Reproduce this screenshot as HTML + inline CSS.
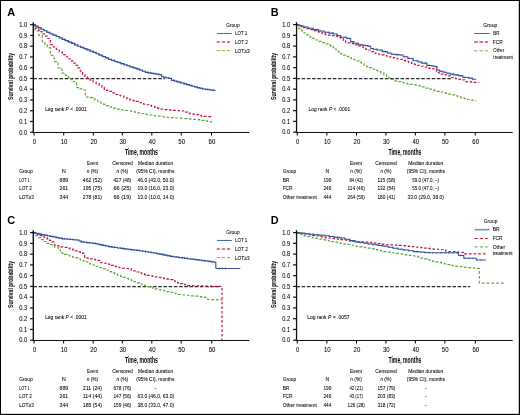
<!DOCTYPE html>
<html><head><meta charset="utf-8"><style>
html,body{margin:0;padding:0;background:#fff;}
body{width:520px;height:415px;overflow:hidden;}
svg{display:block;will-change:transform;}
</style></head><body>
<svg width="520" height="415" viewBox="0 0 520 415" font-family="Liberation Sans, sans-serif">
<rect x="0" y="0" width="520" height="415" fill="#fff"/>

<line x1="33.5" y1="78.62" x2="165" y2="78.62" stroke="#2a2a2a" stroke-width="1.2" stroke-dasharray="3.5 1.7"/>
<path d="M33.5 24.6H35.2 V30.8H36.9H38.8 V35.4H40.7H42.25 V41.6H43.8H44.95 V44.65H47.25 V47.7H48.4H50.35 V55.4H52.3H54.2 V61.6H56.1H58.05 V67.8H60H61.9 V73.2H63.8H65.35 V75.45H68.45 V77.7H70H71.15 V79.65H73.45 V81.6H74.6H76.55 V87.7H78.5H79.83 V88.85H82.47 V90H83.8H85.35 V97H86.9H88.08 V97.35H90.42 V97.7H91.6H92.75 V98.85H95.05 V100H96.2H97.72 V101.55H100.78 V103.1H102.3H103.58 V104.33H106.15 V105.57H108.72 V106.8H110H111.28 V107.57H113.85 V108.33H116.42 V109.1H117.7H119.24 V109.56H122.32 V110.02H125.4 V110.48H128.48 V110.94H131.56 V111.4H133.1H134.64 V112.1H137.71 V112.8H140.79 V113.5H143.86 V114.2H145.4H146.75 V114.6H149.45 V115H152.15 V115.4H154.85 V115.8H156.2H157.74 V116.16H160.82 V116.52H163.9 V116.88H166.98 V117.24H170.06 V117.6H171.6H172.98 V117.8H175.74 V118H178.5 V118.2H181.26 V118.4H184.02 V118.6H185.4H186.94 V118.84H190.02 V119.08H193.1 V119.32H196.18 V119.56H199.26 V119.8H200.8H201.95 V120.35H204.25 V120.9H205.4H207.15 V121.4H210.65 V121.9H212.4" fill="none" stroke="#62a83a" stroke-width="1.2" stroke-dasharray="2.8 2.0"/>
<path d="M33.5 24.6H35.3 V28.1H38.9 V31.6H40.7H41.98 V33.9H44.55 V36.2H47.12 V38.5H48.4H50.35 V44.7H52.3H53.65 V47H56.35 V49.3H57.7H59.23 V52H62.27 V54.7H63.8H65.08 V56.73H67.65 V58.77H70.22 V60.8H71.5H72.78 V63.13H75.35 V65.47H77.92 V67.8H79.2H80.35 V71.15H82.65 V74.5H83.8H84.97 V76.35H87.33 V78.2H88.5H90.03 V80.1H93.07 V82H94.6H96.15 V83.7H99.25 V85.4H100.8H101.95 V87.35H104.25 V89.3H105.4H106.55 V90.35H108.85 V91.4H110H111.55 V92.95H114.65 V94.5H116.2H117.72 V95.25H120.78 V96H122.3H123.85 V97.55H126.95 V99.1H128.5H130.03 V99.87H133.1 V100.63H136.17 V101.4H137.7H138.88 V102.55H141.22 V103.7H142.4H143.67 V104.23H146.2 V104.77H148.73 V105.3H150H151.55 V106.33H154.65 V107.37H157.75 V108.4H159.3H160.85 V109H163.95 V109.6H165.5H167.04 V109.83H170.12 V110.07H173.21 V110.3H176.29 V110.53H179.38 V110.77H182.46 V111H184H185.12 V112.1H187.38 V113.2H188.5H190.03 V113.7H193.1 V114.2H196.17 V114.7H197.7H198.88 V115.45H201.22 V116.2H202.4H204.07 V116.37H207.4 V116.53H210.73 V116.7H212.4" fill="none" stroke="#c2173d" stroke-width="1.2" stroke-dasharray="2.6 2.0"/>
<path d="M33.5 24.6H34.99 V26.14H37.97 V27.68H40.95 V29.22H43.93 V30.76H46.91 V32.3H48.4H49.94 V33.7H53.02 V35.1H56.1 V36.5H59.18 V37.9H62.26 V39.3H63.8H65.34 V40.68H68.42 V42.06H71.5 V43.44H74.58 V44.82H77.66 V46.2H79.2H80.74 V47.44H83.82 V48.68H86.9 V49.92H89.98 V51.16H93.06 V52.4H94.6H96.14 V53.78H99.22 V55.16H102.3 V56.54H105.38 V57.92H108.46 V59.3H110H111.54 V60.38H114.62 V61.46H117.7 V62.54H120.78 V63.62H123.86 V64.7H125.4H126.94 V65.76H130.02 V66.82H133.1 V67.88H136.18 V68.94H139.26 V70H140.8H142.35 V71.2H145.45 V72.4H147H148.38 V72.86H151.14 V73.32H153.9 V73.78H156.66 V74.24H159.42 V74.7H160.8H161.6 V76.7H162.4H163.67 V77.23H166.2 V77.77H168.73 V78.3H170H171.6 V80.3H173.2H174.72 V81.2H177.78 V82.1H180.82 V83H183.88 V83.9H185.4H186.68 V84.67H189.25 V85.43H191.82 V86.2H193.1H194.45 V86.9H197.15 V87.6H199.85 V88.3H202.55 V89H203.9H205.35 V89.38H208.25 V89.75H211.15 V90.12H214.05 V90.5H215.5" fill="none" stroke="#34549a" stroke-width="1.15"/>
<path d="M36.1 24.94V26.94M38.7 26.29V28.29M41.3 27.63V29.63M43.9 28.97V30.97M46.5 30.32V32.32M49.1 31.62V33.62M51.7 32.8V34.8M54.3 33.98V35.98M56.9 35.16V37.16M59.5 36.35V38.35M62.1 37.53V39.53M64.7 38.7V40.7M67.3 39.87V41.87M69.9 41.03V43.03M72.5 42.2V44.2M75.1 43.36V45.36M77.7 44.53V46.53M80.3 45.64V47.64M82.9 46.69V48.69M85.5 47.74V49.74M88.1 48.78V50.78M90.7 49.83V51.83M93.3 50.88V52.88M95.9 51.98V53.98M98.5 53.15V55.15M101.1 54.31V56.31M103.7 55.48V57.48M106.3 56.64V58.64M108.9 57.81V59.81M111.5 58.83V60.83M114.1 59.74V61.74M116.7 60.65V62.65M119.3 61.56V63.56M121.9 62.47V64.47M124.5 63.38V65.38M127.1 64.29V66.29M129.7 65.18V67.18M132.3 66.07V68.07M134.9 66.97V68.97M137.5 67.86V69.86M140.1 68.76V70.76M142.7 69.74V71.74M145.3 70.74V72.74M147.9 71.55V73.55M150.5 71.98V73.98M153.1 72.42V74.42M155.7 72.85V74.85M158.3 73.28V75.28M160.9 73.82V75.82M163.5 75.93V77.93M166.1 76.48V78.48M168.7 77.03V79.03M171.3 78.11V80.11M173.9 79.51V81.51M176.5 80.27V82.27M179.1 81.04V83.04M181.7 81.81V83.81M184.3 82.58V84.58M186.9 83.35V85.35M189.5 84.12V86.12M192.1 84.9V86.9M194.7 85.61V87.61M197.3 86.29V88.29M199.9 86.96V88.96M202.5 87.64V89.64M205.1 88.16V90.16M207.7 88.49V90.49M210.3 88.83V90.83M212.9 89.16V91.16" fill="none" stroke="#34549a" stroke-width="0.8"/>
<line x1="33.3" y1="22.2" x2="33.3" y2="133.1" stroke="#111" stroke-width="1.4"/>
<line x1="32.7" y1="132.5" x2="249.4" y2="132.5" stroke="#111" stroke-width="1.2"/>
<line x1="30.1" y1="132.25" x2="33.5" y2="132.25" stroke="#111" stroke-width="1.25"/>
<line x1="30.1" y1="121.5" x2="33.5" y2="121.5" stroke="#111" stroke-width="1.25"/>
<line x1="30.1" y1="110.74" x2="33.5" y2="110.74" stroke="#111" stroke-width="1.25"/>
<line x1="30.1" y1="99.98" x2="33.5" y2="99.98" stroke="#111" stroke-width="1.25"/>
<line x1="30.1" y1="89.23" x2="33.5" y2="89.23" stroke="#111" stroke-width="1.25"/>
<line x1="30.1" y1="78.47" x2="33.5" y2="78.47" stroke="#111" stroke-width="1.25"/>
<line x1="30.1" y1="67.72" x2="33.5" y2="67.72" stroke="#111" stroke-width="1.25"/>
<line x1="30.1" y1="56.97" x2="33.5" y2="56.97" stroke="#111" stroke-width="1.25"/>
<line x1="30.1" y1="46.21" x2="33.5" y2="46.21" stroke="#111" stroke-width="1.25"/>
<line x1="30.1" y1="35.45" x2="33.5" y2="35.45" stroke="#111" stroke-width="1.25"/>
<line x1="30.1" y1="24.7" x2="33.5" y2="24.7" stroke="#111" stroke-width="1.25"/>
<line x1="34" y1="132.5" x2="34" y2="135.6" stroke="#111" stroke-width="1.1"/>
<line x1="63.7" y1="132.5" x2="63.7" y2="135.6" stroke="#111" stroke-width="1.1"/>
<line x1="93.4" y1="132.5" x2="93.4" y2="135.6" stroke="#111" stroke-width="1.1"/>
<line x1="122.4" y1="132.5" x2="122.4" y2="135.6" stroke="#111" stroke-width="1.1"/>
<line x1="151.8" y1="132.5" x2="151.8" y2="135.6" stroke="#111" stroke-width="1.1"/>
<line x1="181.3" y1="132.5" x2="181.3" y2="135.6" stroke="#111" stroke-width="1.1"/>
<line x1="211.5" y1="132.5" x2="211.5" y2="135.6" stroke="#111" stroke-width="1.1"/>
<line x1="216.9" y1="33.45" x2="231.8" y2="33.45" stroke="#4862a3" stroke-width="1"/>
<line x1="216.7" y1="42" x2="230.8" y2="42" stroke="#cc4a70" stroke-width="1.5" stroke-dasharray="3.2 1.9"/>
<line x1="216.7" y1="50.6" x2="230.8" y2="50.6" stroke="#73b452" stroke-width="1" stroke-dasharray="3.2 1.9"/>
<line x1="296.5" y1="78.53" x2="452.5" y2="78.53" stroke="#2a2a2a" stroke-width="1.2" stroke-dasharray="3.5 1.7"/>
<path d="M297 24.6H298.8 V28.6H300.6H301.75 V30.8H304.05 V33H305.2H306.75 V34.95H309.85 V36.9H311.4H312.95 V38.45H316.05 V40H317.6H319.13 V41.3H322.2 V42.6H325.27 V43.9H326.8H328.08 V45.17H330.65 V46.43H333.22 V47.7H334.5H335.78 V49.77H338.35 V51.83H340.92 V53.9H342.2H343.48 V55.17H346.05 V56.43H348.62 V57.7H349.9H351.18 V58.73H353.75 V59.77H356.32 V60.8H357.6H358.88 V62.37H361.45 V63.93H364.02 V65.5H365.3H366.48 V66.6H368.82 V67.7H370H371.53 V69H374.6 V70.3H377.67 V71.6H379.2H380.75 V73.15H383.85 V74.7H385.4H386.55 V76.25H388.85 V77.8H390H391.55 V79.3H394.65 V80.8H396.2H397.74 V81.58H400.81 V82.35H403.89 V83.12H406.96 V83.9H408.5H410.04 V84.4H413.11 V84.9H416.19 V85.4H419.26 V85.9H420.8H422.33 V86.97H425.4 V88.03H428.47 V89.1H430H431.45 V89.82H434.35 V90.55H437.25 V91.28H440.15 V92H441.6H443.04 V92.72H445.91 V93.45H448.79 V94.18H451.66 V94.9H453.1H454.65 V95.87H457.75 V96.83H460.85 V97.8H462.4H464.12 V98.65H467.57 V99.5H469.3H471.02 V100.1H474.48 V100.7H476.2" fill="none" stroke="#62a83a" stroke-width="1.2" stroke-dasharray="2.8 2.0"/>
<path d="M297 24.6H298.37 V25.63H301.1 V26.67H303.83 V27.7H305.2H306.75 V28.68H309.85 V29.65H312.95 V30.62H316.05 V31.6H317.6H319.13 V32.6H322.2 V33.6H325.27 V34.6H326.8H328.35 V35.13H331.45 V35.67H334.55 V36.2H336.1H337.62 V37.35H340.68 V38.5H342.2H343.35 V40.4H345.65 V42.3H346.8H348.1 V42.83H350.7 V43.37H353.3 V43.9H354.6H355.88 V44.93H358.45 V45.97H361.02 V47H362.3H363.45 V48.15H365.75 V49.3H366.9H368.45 V50H370H371.15 V51.55H373.45 V53.1H374.6H375.95 V53.67H378.65 V54.25H381.35 V54.83H384.05 V55.4H385.4H386.68 V56.17H389.25 V56.93H391.82 V57.7H393.1H394.38 V58.23H396.95 V58.77H399.52 V59.3H400.8H402.35 V60.3H405.45 V61.3H408.55 V62.3H410.1H411.62 V63.5H414.68 V64.7H416.2H417.75 V65.47H420.85 V66.23H423.95 V67H425.5H426.62 V67.65H428.88 V68.3H430H431.6 V68.9H434.8 V69.5H436.4V71.8H438.35 V72.95H441.25 V74.1H442.7H444.15 V74.95H447.05 V75.8H448.5H450.25 V77.5H452H453.15 V78.1H455.45 V78.7H456.6H458.33 V79.3H461.77 V79.9H463.5H464.65 V81.6H465.8H467.46 V81.82H470.79 V82.05H474.11 V82.28H477.44 V82.5H479.1" fill="none" stroke="#c2173d" stroke-width="1.2" stroke-dasharray="2.6 2.0"/>
<path d="M297 24.6H299.05 V25.75H303.15 V26.9H305.2H307.9 V28.25H313.3 V29.6H316H318.7 V30.95H324.1 V32.3H326.8H329.12 V33.1H333.78 V33.9H336.1H336.85 V35.4H337.6H340.7 V37.3H343.8H346.85 V38.5H349.9H350.7 V41.6H351.5H353.8 V43.15H358.4 V44.7H360.7H363.02 V45.45H367.68 V46.2H370H370.75 V48.5H371.5H373.43 V49.25H377.27 V50H379.2H382.3 V51.6H385.4H387.32 V52.9H391.18 V54.2H393.1H395.03 V54.6H398.88 V55H400.8H403.12 V56.75H407.78 V58.5H410.1H413.15 V60.8H416.2H418.12 V61.95H421.97 V63.1H423.9H426.95 V65.4H430H431.73 V66H435.17 V66.6H436.9V70H439.38 V71.15H443.12 V72.3H445H446.75 V73.2H450.25 V74.1H452H454.02 V74.85H458.08 V75.6H460.1H462.95 V77.5H465.8H468.7 V78.1H471.6H472.2 V79.3H472.8H476.2" fill="none" stroke="#34549a" stroke-width="1.05"/>
<path d="M301 24.72V26.72M305 25.84V27.84M309 26.85V28.85M313 27.85V29.85M317 28.85V30.85M321 29.85V31.85M325 30.85V32.85M329 31.68V33.68M333 32.37V34.37M337 33.8V35.8M341 35.44V37.44M345 36.54V38.54M349 37.32V39.32M353 41.11V43.11M357 42.45V44.45M361 43.75V45.75M365 44.39V46.39M369 45.04V47.04M373 47.79V49.79M377 48.57V50.57M381 49.46V51.46M385 50.5V52.5M389 51.82V53.82M393 53.17V55.17M397 53.61V55.61M401 54.08V56.08M405 55.58V57.58M409 57.09V59.09M413 58.59V60.59M417 60.04V62.04M421 61.23V63.23M425 62.51V64.51M429 64.02V66.02M433 64.92V66.92M437 66.17V68.17M441 70.07V72.07M445 71.3V73.3M449 72.33V74.33M453 73.29V75.29M457 74.03V76.03M461 74.9V76.9M465 76.23V78.23M469 76.83V78.83M473 78.3V80.3" fill="none" stroke="#34549a" stroke-width="0.7"/>
<line x1="296.55" y1="22.2" x2="296.55" y2="133.1" stroke="#111" stroke-width="1.3"/>
<line x1="295.95" y1="132.5" x2="512.8" y2="132.5" stroke="#111" stroke-width="1.2"/>
<line x1="293.1" y1="132.15" x2="296.5" y2="132.15" stroke="#111" stroke-width="1.25"/>
<line x1="293.1" y1="121.4" x2="296.5" y2="121.4" stroke="#111" stroke-width="1.25"/>
<line x1="293.1" y1="110.64" x2="296.5" y2="110.64" stroke="#111" stroke-width="1.25"/>
<line x1="293.1" y1="99.89" x2="296.5" y2="99.89" stroke="#111" stroke-width="1.25"/>
<line x1="293.1" y1="89.13" x2="296.5" y2="89.13" stroke="#111" stroke-width="1.25"/>
<line x1="293.1" y1="78.38" x2="296.5" y2="78.38" stroke="#111" stroke-width="1.25"/>
<line x1="293.1" y1="67.62" x2="296.5" y2="67.62" stroke="#111" stroke-width="1.25"/>
<line x1="293.1" y1="56.87" x2="296.5" y2="56.87" stroke="#111" stroke-width="1.25"/>
<line x1="293.1" y1="46.11" x2="296.5" y2="46.11" stroke="#111" stroke-width="1.25"/>
<line x1="293.1" y1="35.35" x2="296.5" y2="35.35" stroke="#111" stroke-width="1.25"/>
<line x1="293.1" y1="24.6" x2="296.5" y2="24.6" stroke="#111" stroke-width="1.25"/>
<line x1="297.3" y1="132.5" x2="297.3" y2="135.6" stroke="#111" stroke-width="1.1"/>
<line x1="326.9" y1="132.5" x2="326.9" y2="135.6" stroke="#111" stroke-width="1.1"/>
<line x1="356.5" y1="132.5" x2="356.5" y2="135.6" stroke="#111" stroke-width="1.1"/>
<line x1="385.9" y1="132.5" x2="385.9" y2="135.6" stroke="#111" stroke-width="1.1"/>
<line x1="415.4" y1="132.5" x2="415.4" y2="135.6" stroke="#111" stroke-width="1.1"/>
<line x1="444.9" y1="132.5" x2="444.9" y2="135.6" stroke="#111" stroke-width="1.1"/>
<line x1="475.3" y1="132.5" x2="475.3" y2="135.6" stroke="#111" stroke-width="1.1"/>
<line x1="474.2" y1="33.5" x2="489.6" y2="33.5" stroke="#4862a3" stroke-width="1"/>
<line x1="474.2" y1="42" x2="488.1" y2="42" stroke="#cc4a70" stroke-width="1.5" stroke-dasharray="3.6 1.6"/>
<line x1="474.2" y1="50.8" x2="488.1" y2="50.8" stroke="#73b452" stroke-width="1" stroke-dasharray="3.2 2.1"/>
<line x1="33.5" y1="286.57" x2="221" y2="286.57" stroke="#2a2a2a" stroke-width="1.2" stroke-dasharray="3.5 1.7"/>
<path d="M33.5 232.6H34.8 V235.7H36.1H37.62 V237.65H40.68 V239.6H42.2H43.75 V241.5H46.85 V243.4H48.4H49.68 V244.7H52.25 V246H54.82 V247.3H56.1H58.2 V248.2H60.3V252.3H61.98 V253.33H64.55 V254.37H67.12 V255.4H68.4H69.75 V256.25H72.45 V257.1H75.15 V257.95H77.85 V258.8H79.2H80.48 V259.83H83.05 V260.87H85.62 V261.9H86.9H87.7 V263.4H88.5H90.03 V264.2H93.07 V265H94.6H96.15 V266.27H99.25 V267.53H102.35 V268.8H103.9H105.43 V270.25H108.47 V271.7H110H111.53 V272.93H114.6 V274.17H117.67 V275.4H119.2H120.55 V276.4H123.25 V277.4H125.95 V278.4H128.65 V279.4H130H131.35 V280.55H134.05 V281.7H136.75 V282.85H139.45 V284H140.8H142.08 V284.87H144.65 V285.73H147.22 V286.6H148.5H149.78 V287.37H152.35 V288.13H154.92 V288.9H156.2H157.74 V289.58H160.82 V290.26H163.9 V290.94H166.98 V291.62H170.06 V292.3H171.6H172.88 V293.03H175.45 V293.77H178.02 V294.5H179.3H180.64 V294.75H183.31 V295H185.99 V295.25H188.66 V295.5H190H191.6 V295.86H194.8 V296.22H198 V296.58H201.2 V296.94H204.4 V297.3H206H207.65 V299.5H209.3H210.93 V299.6H214.18 V299.7H217.43 V299.8H220.68 V299.9H222.3" fill="none" stroke="#62a83a" stroke-width="1.2" stroke-dasharray="2.8 2.0"/>
<path d="M33.5 232.6H35.3 V234.15H38.9 V235.7H40.7H41.98 V236.73H44.55 V237.77H47.12 V238.8H48.4H49.55 V240.35H51.85 V241.9H53H54.55 V245H56.1H57.65 V245.9H60.75 V246.8H62.3H63.83 V247.47H66.9 V248.13H69.97 V248.8H71.5H72.78 V249.83H75.35 V250.87H77.92 V251.9H79.2H80.35 V252.65H82.65 V253.4H83.8H84.6 V257.3H85.4H86.95 V258.05H90.05 V258.8H91.6H92.88 V259.33H95.45 V259.87H98.02 V260.4H99.3H100.8 V262.7H102.3H103.58 V263.23H106.15 V263.77H108.72 V264.3H110H111.28 V265.33H113.85 V266.37H116.42 V267.4H117.7H119.24 V267.77H122.31 V268.15H125.39 V268.52H128.46 V268.9H130H131.28 V269.93H133.85 V270.97H136.42 V272H137.7H139.05 V272.85H141.75 V273.7H144.45 V274.55H147.15 V275.4H148.5H149.85 V275.9H152.55 V276.4H155.25 V276.9H157.95 V277.4H159.3H160.84 V277.97H163.91 V278.55H166.99 V279.12H170.06 V279.7H171.6H172.78 V280.85H175.12 V282H176.3H177.58 V282.8H180.15 V283.6H182.72 V284.4H184H185.18 V285H187.52 V285.6H188.7H190.21 V285.68H193.24 V285.76H196.27 V285.85H199.3 V285.93H202.32 V286.01H205.35 V286.09H208.38 V286.17H211.4 V286.25H214.43 V286.34H217.46 V286.42H220.49 V286.5H222V340.2" fill="none" stroke="#c2173d" stroke-width="1.2" stroke-dasharray="2.6 2.0"/>
<path d="M33.5 232.6H34.99 V233.22H37.97 V233.84H40.95 V234.46H43.93 V235.08H46.91 V235.7H48.4H49.94 V236.32H53.02 V236.94H56.1 V237.56H59.18 V238.18H62.26 V238.8H63.8H65.19 V239.04H67.97 V239.28H70.75 V239.52H73.53 V239.76H76.31 V240H77.7H78.85 V240.95H81.15 V241.9H82.3H83.84 V242.28H86.91 V242.65H89.99 V243.03H93.06 V243.4H94.6H96.14 V244.04H99.22 V244.68H102.3 V245.32H105.38 V245.96H108.46 V246.6H110H111.54 V247.06H114.62 V247.52H117.7 V247.98H120.78 V248.44H123.86 V248.9H125.4H126.94 V249.26H130.02 V249.62H133.1 V249.98H136.18 V250.34H139.26 V250.7H140.8H142.34 V251.2H145.42 V251.7H148.5 V252.2H151.58 V252.7H154.66 V253.2H156.2H157.74 V253.82H160.82 V254.44H163.9 V255.06H166.98 V255.68H170.06 V256.3H171.6H173 V256.7H175.8 V257.1H178.6 V257.5H180H181.54 V257.9H184.62 V258.3H187.7 V258.7H190.78 V259.1H193.86 V259.5H195.4H196.86 V259.89H199.77 V260.27H202.69 V260.66H205.6 V261.04H208.51 V261.43H211.43 V261.81H214.34 V262.2H215.8V268.5" fill="none" stroke="#34549a" stroke-width="1.15"/>
<path d="M36.3 232.23V234.13M39.1 232.82V234.72M41.9 233.4V235.3M44.7 233.98V235.88M47.5 234.56V236.46M50.3 235.13V237.03M53.1 235.7V237.6M55.9 236.26V238.16M58.7 236.82V238.72M61.5 237.39V239.29M64.3 237.89V239.79M67.1 238.13V240.03M69.9 238.38V240.28M72.7 238.62V240.52M75.5 238.86V240.76M78.3 239.3V241.2M81.1 240.45V242.35M83.9 241.15V243.05M86.7 241.49V243.39M89.5 241.83V243.73M92.3 242.17V244.07M95.1 242.55V244.45M97.9 243.14V245.04M100.7 243.72V245.62M103.5 244.3V246.2M106.3 244.88V246.78M109.1 245.46V247.36M111.9 245.93V247.83M114.7 246.35V248.25M117.5 246.77V248.67M120.3 247.19V249.09M123.1 247.61V249.51M125.9 248.01V249.91M128.7 248.34V250.24M131.5 248.66V250.56M134.3 248.99V250.89M137.1 249.32V251.22M139.9 249.64V251.54M142.7 250.06V251.96M145.5 250.51V252.41M148.3 250.97V252.87M151.1 251.42V253.32M153.9 251.88V253.78M156.7 252.35V254.25M159.5 252.91V254.81M162.3 253.48V255.38M165.1 254.04V255.94M167.9 254.61V256.51M170.7 255.17V257.07M173.5 255.62V257.52M176.3 256.02V257.92M179.1 256.42V258.32M181.9 256.8V258.7M184.7 257.16V259.06M187.5 257.52V259.42M190.3 257.89V259.79M193.1 258.25V260.15M195.9 258.62V260.52M198.7 258.99V260.89M201.5 259.36V261.26M204.3 259.73V261.63M207.1 260.1V262M209.9 260.47V262.37M212.7 260.84V262.74" fill="none" stroke="#34549a" stroke-width="0.75"/>
<line x1="215.8" y1="268.5" x2="240.3" y2="268.5" stroke="#34549a" stroke-width="1"/>
<line x1="219.5" y1="267.5" x2="219.5" y2="269.5" stroke="#34549a" stroke-width="0.8"/>
<line x1="222.5" y1="267.5" x2="222.5" y2="269.5" stroke="#34549a" stroke-width="0.8"/>
<line x1="225.5" y1="267.5" x2="225.5" y2="269.5" stroke="#34549a" stroke-width="0.8"/>
<line x1="33.3" y1="230.2" x2="33.3" y2="341.1" stroke="#111" stroke-width="1.4"/>
<line x1="32.7" y1="340.5" x2="249.4" y2="340.5" stroke="#111" stroke-width="1.2"/>
<line x1="30.1" y1="340.2" x2="33.5" y2="340.2" stroke="#111" stroke-width="1.25"/>
<line x1="30.1" y1="329.44" x2="33.5" y2="329.44" stroke="#111" stroke-width="1.25"/>
<line x1="30.1" y1="318.69" x2="33.5" y2="318.69" stroke="#111" stroke-width="1.25"/>
<line x1="30.1" y1="307.94" x2="33.5" y2="307.94" stroke="#111" stroke-width="1.25"/>
<line x1="30.1" y1="297.18" x2="33.5" y2="297.18" stroke="#111" stroke-width="1.25"/>
<line x1="30.1" y1="286.43" x2="33.5" y2="286.43" stroke="#111" stroke-width="1.25"/>
<line x1="30.1" y1="275.67" x2="33.5" y2="275.67" stroke="#111" stroke-width="1.25"/>
<line x1="30.1" y1="264.92" x2="33.5" y2="264.92" stroke="#111" stroke-width="1.25"/>
<line x1="30.1" y1="254.16" x2="33.5" y2="254.16" stroke="#111" stroke-width="1.25"/>
<line x1="30.1" y1="243.41" x2="33.5" y2="243.41" stroke="#111" stroke-width="1.25"/>
<line x1="30.1" y1="232.65" x2="33.5" y2="232.65" stroke="#111" stroke-width="1.25"/>
<line x1="34.1" y1="340.5" x2="34.1" y2="343.6" stroke="#111" stroke-width="1.1"/>
<line x1="63.6" y1="340.5" x2="63.6" y2="343.6" stroke="#111" stroke-width="1.1"/>
<line x1="93.2" y1="340.5" x2="93.2" y2="343.6" stroke="#111" stroke-width="1.1"/>
<line x1="122.4" y1="340.5" x2="122.4" y2="343.6" stroke="#111" stroke-width="1.1"/>
<line x1="151.8" y1="340.5" x2="151.8" y2="343.6" stroke="#111" stroke-width="1.1"/>
<line x1="181.2" y1="340.5" x2="181.2" y2="343.6" stroke="#111" stroke-width="1.1"/>
<line x1="211.7" y1="340.5" x2="211.7" y2="343.6" stroke="#111" stroke-width="1.1"/>
<line x1="216.9" y1="240.45" x2="231.8" y2="240.45" stroke="#4862a3" stroke-width="1"/>
<line x1="216.7" y1="249" x2="230.8" y2="249" stroke="#cc4a70" stroke-width="1.5" stroke-dasharray="3.2 1.9"/>
<line x1="216.7" y1="257.6" x2="230.8" y2="257.6" stroke="#73b452" stroke-width="1" stroke-dasharray="3.2 1.9"/>
<line x1="296.5" y1="286.55" x2="470.3" y2="286.55" stroke="#2a2a2a" stroke-width="1.2" stroke-dasharray="3.5 1.7"/>
<path d="M297 232.6H298.68 V234.15H302.02 V235.7H303.7H304.98 V236.2H307.55 V236.7H310.12 V237.2H311.4H312.94 V237.82H316.02 V238.44H319.1 V239.06H322.18 V239.68H325.26 V240.3H326.8H328.34 V240.92H331.42 V241.54H334.5 V242.16H337.58 V242.78H340.66 V243.4H342.2H343.75 V243.93H346.85 V244.47H349.95 V245H351.5H353.02 V245.75H356.08 V246.5H357.6H359.15 V246.93H362.25 V247.35H365.35 V247.77H368.45 V248.2H370H371.54 V248.88H374.62 V249.56H377.7 V250.24H380.78 V250.92H383.86 V251.6H385.4H386.94 V252.06H390.02 V252.52H393.1 V252.98H396.18 V253.44H399.26 V253.9H400.8H402.34 V254.36H405.42 V254.82H408.5 V255.28H411.58 V255.74H414.66 V256.2H416.2H417.74 V257.12H420.82 V258.04H423.9 V258.96H426.98 V259.88H430.06 V260.8H431.6H433 V261.33H435.8 V261.87H438.6 V262.4H440H441.45 V263.12H444.35 V263.84H447.25 V264.56H450.15 V265.28H453.05 V266H454.5H455.94 V266.34H458.82 V266.68H461.7 V267.02H464.58 V267.36H467.46 V267.7H468.9H470.63 V267.97H474.1 V268.23H477.57 V268.5H479.3V283.1H503.7" fill="none" stroke="#62a83a" stroke-width="1.2" stroke-dasharray="2.8 2.0"/>
<path d="M297 232.6H298.44 V233.06H301.32 V233.52H304.2 V233.98H307.08 V234.44H309.96 V234.9H311.4H312.94 V235.44H316.02 V235.98H319.1 V236.52H322.18 V237.06H325.26 V237.6H326.8H328.34 V238H331.42 V238.4H334.5 V238.8H337.58 V239.2H340.66 V239.6H342.2H343.74 V240H346.82 V240.4H349.9 V240.8H352.98 V241.2H356.06 V241.6H357.6H359.15 V241.78H362.25 V241.95H365.35 V242.12H368.45 V242.3H370H371.54 V242.76H374.62 V243.22H377.7 V243.68H380.78 V244.14H383.86 V244.6H385.4H386.94 V244.76H390.02 V244.92H393.1 V245.08H396.18 V245.24H399.26 V245.4H400.8H402.34 V245.72H405.42 V246.04H408.5 V246.36H411.58 V246.68H414.66 V247H416.2H417.74 V247.36H420.82 V247.72H423.9 V248.08H426.98 V248.44H430.06 V248.8H431.6H433 V249.03H435.8 V249.27H438.6 V249.5H440H445.8V251.5H457.7V252.3H464.6V253.8H486.2" fill="none" stroke="#c2173d" stroke-width="1.2" stroke-dasharray="2.6 2.0"/>
<path d="M297 232.6H299.4 V233.13H304.2 V233.67H309 V234.2H311.4H313.97 V234.7H319.1 V235.2H324.23 V235.7H326.8H329.37 V236.47H334.5 V237.23H339.63 V238H342.2H344.77 V239.3H349.9 V240.6H355.03 V241.9H357.6H359.67 V242.57H363.8 V243.23H367.93 V243.9H370H372.57 V244.67H377.7 V245.43H382.83 V246.2H385.4H387.97 V247.23H393.1 V248.27H398.23 V249.3H400.8H403.37 V250.07H408.5 V250.83H413.63 V251.6H416.2H418.77 V252H423.9 V252.4H429.03 V252.8H431.6H440H458.5V255.4H463.8V258.2H476.2V260H485.8" fill="none" stroke="#34549a" stroke-width="1.05"/>
<path d="M301 232.04V234.04M305 232.49V234.49M309 232.93V234.93M313 233.36V235.36M317 233.75V235.75M321 234.14V236.14M325 234.52V236.52M329 235.03V237.03M333 235.63V237.63M337 236.22V238.22M341 236.82V238.82M345 237.71V239.71M349 238.72V240.72M353 239.74V241.74M357 240.75V242.75M361 241.45V243.45M365 242.09V244.09M369 242.74V244.74M373 243.35V245.35M377 243.95V245.95M381 244.54V246.54M385 245.14V247.14M389 245.92V247.92M393 246.73V248.73M397 247.54V249.54M401 248.33V250.33M405 248.93V250.93M409 249.52V251.52M413 250.12V252.12M417 250.66V252.66M421 250.97V252.97M425 251.29V253.29M429 251.6V253.6M433 251.83V253.83M437 251.93V253.93M441 252.01V254.01M445 252.03V254.03M449 252.05V254.05M453 252.07V254.07M457 252.09V254.09M461 254.4V256.4M465 257.2V259.2M469 257.2V259.2M473 257.2V259.2M477 259V261M481 259V261" fill="none" stroke="#34549a" stroke-width="0.7"/>
<line x1="296.55" y1="230.2" x2="296.55" y2="341.1" stroke="#111" stroke-width="1.3"/>
<line x1="295.95" y1="340.5" x2="512.8" y2="340.5" stroke="#111" stroke-width="1.2"/>
<line x1="293.1" y1="340.2" x2="296.5" y2="340.2" stroke="#111" stroke-width="1.25"/>
<line x1="293.1" y1="329.44" x2="296.5" y2="329.44" stroke="#111" stroke-width="1.25"/>
<line x1="293.1" y1="318.68" x2="296.5" y2="318.68" stroke="#111" stroke-width="1.25"/>
<line x1="293.1" y1="307.92" x2="296.5" y2="307.92" stroke="#111" stroke-width="1.25"/>
<line x1="293.1" y1="297.16" x2="296.5" y2="297.16" stroke="#111" stroke-width="1.25"/>
<line x1="293.1" y1="286.4" x2="296.5" y2="286.4" stroke="#111" stroke-width="1.25"/>
<line x1="293.1" y1="275.64" x2="296.5" y2="275.64" stroke="#111" stroke-width="1.25"/>
<line x1="293.1" y1="264.88" x2="296.5" y2="264.88" stroke="#111" stroke-width="1.25"/>
<line x1="293.1" y1="254.12" x2="296.5" y2="254.12" stroke="#111" stroke-width="1.25"/>
<line x1="293.1" y1="243.36" x2="296.5" y2="243.36" stroke="#111" stroke-width="1.25"/>
<line x1="293.1" y1="232.6" x2="296.5" y2="232.6" stroke="#111" stroke-width="1.25"/>
<line x1="297.3" y1="340.5" x2="297.3" y2="343.6" stroke="#111" stroke-width="1.1"/>
<line x1="326.9" y1="340.5" x2="326.9" y2="343.6" stroke="#111" stroke-width="1.1"/>
<line x1="356.5" y1="340.5" x2="356.5" y2="343.6" stroke="#111" stroke-width="1.1"/>
<line x1="385.9" y1="340.5" x2="385.9" y2="343.6" stroke="#111" stroke-width="1.1"/>
<line x1="415.4" y1="340.5" x2="415.4" y2="343.6" stroke="#111" stroke-width="1.1"/>
<line x1="444.8" y1="340.5" x2="444.8" y2="343.6" stroke="#111" stroke-width="1.1"/>
<line x1="475.4" y1="340.5" x2="475.4" y2="343.6" stroke="#111" stroke-width="1.1"/>
<line x1="474.6" y1="229.7" x2="489.5" y2="229.7" stroke="#7d93c6" stroke-width="1.7"/>
<line x1="474.6" y1="238.5" x2="487.7" y2="238.5" stroke="#c2173d" stroke-width="1.2" stroke-dasharray="3.2 2.0"/>
<line x1="474.6" y1="246.9" x2="487.7" y2="246.9" stroke="#7dbd5c" stroke-width="1.2" stroke-dasharray="3.2 2.0"/>
<rect x="0" y="0" width="520" height="1" fill="#000"/><rect x="0" y="0" width="1" height="415" fill="#000"/>
<rect x="518.8" y="0" width="1.2" height="415" fill="#000"/>
<rect x="0" y="413.85" width="520" height="1.15" fill="#000"/>
<g opacity="0.995">
<text x="7.3" y="16" font-size="10.9" font-weight="bold" fill="#000">A</text>
<text x="19.15" y="134.5" font-size="6.4" font-weight="normal" fill="#000" textLength="7.9" lengthAdjust="spacingAndGlyphs" stroke="#000" stroke-width="0.12" stroke-opacity="0.5">0.0</text>
<text x="19.15" y="123.75" font-size="6.4" font-weight="normal" fill="#000" textLength="7.9" lengthAdjust="spacingAndGlyphs" stroke="#000" stroke-width="0.12" stroke-opacity="0.5">0.1</text>
<text x="19.15" y="112.99" font-size="6.4" font-weight="normal" fill="#000" textLength="7.9" lengthAdjust="spacingAndGlyphs" stroke="#000" stroke-width="0.12" stroke-opacity="0.5">0.2</text>
<text x="19.15" y="102.23" font-size="6.4" font-weight="normal" fill="#000" textLength="7.9" lengthAdjust="spacingAndGlyphs" stroke="#000" stroke-width="0.12" stroke-opacity="0.5">0.3</text>
<text x="19.15" y="91.48" font-size="6.4" font-weight="normal" fill="#000" textLength="7.9" lengthAdjust="spacingAndGlyphs" stroke="#000" stroke-width="0.12" stroke-opacity="0.5">0.4</text>
<text x="19.15" y="80.72" font-size="6.4" font-weight="normal" fill="#000" textLength="7.9" lengthAdjust="spacingAndGlyphs" stroke="#000" stroke-width="0.12" stroke-opacity="0.5">0.5</text>
<text x="19.15" y="69.97" font-size="6.4" font-weight="normal" fill="#000" textLength="7.9" lengthAdjust="spacingAndGlyphs" stroke="#000" stroke-width="0.12" stroke-opacity="0.5">0.6</text>
<text x="19.15" y="59.22" font-size="6.4" font-weight="normal" fill="#000" textLength="7.9" lengthAdjust="spacingAndGlyphs" stroke="#000" stroke-width="0.12" stroke-opacity="0.5">0.7</text>
<text x="19.15" y="48.46" font-size="6.4" font-weight="normal" fill="#000" textLength="7.9" lengthAdjust="spacingAndGlyphs" stroke="#000" stroke-width="0.12" stroke-opacity="0.5">0.8</text>
<text x="19.15" y="37.7" font-size="6.4" font-weight="normal" fill="#000" textLength="7.9" lengthAdjust="spacingAndGlyphs" stroke="#000" stroke-width="0.12" stroke-opacity="0.5">0.9</text>
<text x="19.15" y="26.95" font-size="6.4" font-weight="normal" fill="#000" textLength="7.9" lengthAdjust="spacingAndGlyphs" stroke="#000" stroke-width="0.12" stroke-opacity="0.5">1.0</text>
<text x="32.8" y="143.85" font-size="6.5" font-weight="normal" fill="#000" textLength="3.2" lengthAdjust="spacingAndGlyphs" stroke="#000" stroke-width="0.12" stroke-opacity="0.5">0</text>
<text x="60.75" y="143.85" font-size="6.5" font-weight="normal" fill="#000" textLength="6.7" lengthAdjust="spacingAndGlyphs" stroke="#000" stroke-width="0.12" stroke-opacity="0.5">10</text>
<text x="90.45" y="143.85" font-size="6.5" font-weight="normal" fill="#000" textLength="6.7" lengthAdjust="spacingAndGlyphs" stroke="#000" stroke-width="0.12" stroke-opacity="0.5">20</text>
<text x="119.45" y="143.85" font-size="6.5" font-weight="normal" fill="#000" textLength="6.7" lengthAdjust="spacingAndGlyphs" stroke="#000" stroke-width="0.12" stroke-opacity="0.5">30</text>
<text x="148.85" y="143.85" font-size="6.5" font-weight="normal" fill="#000" textLength="6.7" lengthAdjust="spacingAndGlyphs" stroke="#000" stroke-width="0.12" stroke-opacity="0.5">40</text>
<text x="178.35" y="143.85" font-size="6.5" font-weight="normal" fill="#000" textLength="6.7" lengthAdjust="spacingAndGlyphs" stroke="#000" stroke-width="0.12" stroke-opacity="0.5">50</text>
<text x="208.55" y="143.85" font-size="6.5" font-weight="normal" fill="#000" textLength="6.7" lengthAdjust="spacingAndGlyphs" stroke="#000" stroke-width="0.12" stroke-opacity="0.5">60</text>
<text transform="translate(12.9 76.4) rotate(-90)" text-anchor="middle" font-size="7.2" font-weight="bold" fill="#000" textLength="47" lengthAdjust="spacingAndGlyphs">Survival probability</text>
<text x="124.95" y="154.8" font-size="8.9" font-weight="bold" fill="#000" textLength="33" lengthAdjust="spacingAndGlyphs" >Time, months</text>
<text x="45.15" y="110.8" font-size="5.3" font-weight="normal" fill="#000" textLength="41.6" lengthAdjust="spacingAndGlyphs" stroke="#000" stroke-width="0.12" stroke-opacity="0.5">Log rank <tspan font-style="italic">P</tspan> &lt; .0001</text>
<text x="86.95" y="164.6" font-size="5.8" font-weight="normal" fill="#000" textLength="11.2" lengthAdjust="spacingAndGlyphs" stroke="#000" stroke-width="0.12" stroke-opacity="0.5">Event</text>
<text x="112.15" y="164.6" font-size="5.8" font-weight="normal" fill="#000" textLength="20.7" lengthAdjust="spacingAndGlyphs" stroke="#000" stroke-width="0.12" stroke-opacity="0.5">Censored</text>
<text x="138.05" y="164.6" font-size="5.8" font-weight="normal" fill="#000" textLength="35.1" lengthAdjust="spacingAndGlyphs" stroke="#000" stroke-width="0.12" stroke-opacity="0.5">Median duration</text>
<text x="19.15" y="173.2" font-size="5.8" font-weight="normal" fill="#000" textLength="13.6" lengthAdjust="spacingAndGlyphs" stroke="#000" stroke-width="0.12" stroke-opacity="0.5">Group</text>
<text x="61.85" y="173.2" font-size="5.8" font-weight="normal" fill="#000" textLength="4" lengthAdjust="spacingAndGlyphs" stroke="#000" stroke-width="0.12" stroke-opacity="0.5">N</text>
<text x="86.75" y="173.2" font-size="5.8" font-weight="normal" fill="#000" textLength="11.4" lengthAdjust="spacingAndGlyphs" stroke="#000" stroke-width="0.12" stroke-opacity="0.5"><tspan font-style="italic">n</tspan> (%)</text>
<text x="116.55" y="173.2" font-size="5.8" font-weight="normal" fill="#000" textLength="11.6" lengthAdjust="spacingAndGlyphs" stroke="#000" stroke-width="0.12" stroke-opacity="0.5"><tspan font-style="italic">n</tspan> (%)</text>
<text x="136.35" y="173.2" font-size="5.8" font-weight="normal" fill="#000" textLength="38" lengthAdjust="spacingAndGlyphs" stroke="#000" stroke-width="0.12" stroke-opacity="0.5">(95% CI), months</text>
<text x="19.15" y="181.9" font-size="5.8" font-weight="normal" fill="#000" textLength="10.5" lengthAdjust="spacingAndGlyphs" stroke="#000" stroke-width="0.12" stroke-opacity="0.5">LOT 1</text>
<text x="59.55" y="181.9" font-size="5.8" font-weight="normal" fill="#000" textLength="8.6" lengthAdjust="spacingAndGlyphs" stroke="#000" stroke-width="0.12" stroke-opacity="0.5">889</text>
<text x="82.75" y="181.9" font-size="5.8" font-weight="normal" fill="#000" textLength="19.3" lengthAdjust="spacingAndGlyphs" stroke="#000" stroke-width="0.12" stroke-opacity="0.5">462 (52)</text>
<text x="113.4" y="181.9" font-size="5.8" font-weight="normal" fill="#000" textLength="17.8" lengthAdjust="spacingAndGlyphs" stroke="#000" stroke-width="0.12" stroke-opacity="0.5">427 (48)</text>
<text x="137.5" y="181.9" font-size="5.8" font-weight="normal" fill="#000" textLength="36.6" lengthAdjust="spacingAndGlyphs" stroke="#000" stroke-width="0.12" stroke-opacity="0.5">46.0 (43.0, 50.0)</text>
<text x="19.15" y="190.4" font-size="5.8" font-weight="normal" fill="#000" textLength="12.8" lengthAdjust="spacingAndGlyphs" stroke="#000" stroke-width="0.12" stroke-opacity="0.5">LOT 2</text>
<text x="59.55" y="190.4" font-size="5.8" font-weight="normal" fill="#000" textLength="8.6" lengthAdjust="spacingAndGlyphs" stroke="#000" stroke-width="0.12" stroke-opacity="0.5">261</text>
<text x="82.75" y="190.4" font-size="5.8" font-weight="normal" fill="#000" textLength="19.3" lengthAdjust="spacingAndGlyphs" stroke="#000" stroke-width="0.12" stroke-opacity="0.5">195 (75)</text>
<text x="113.4" y="190.4" font-size="5.8" font-weight="normal" fill="#000" textLength="17.8" lengthAdjust="spacingAndGlyphs" stroke="#000" stroke-width="0.12" stroke-opacity="0.5">66 (25)</text>
<text x="137.5" y="190.4" font-size="5.8" font-weight="normal" fill="#000" textLength="36.6" lengthAdjust="spacingAndGlyphs" stroke="#000" stroke-width="0.12" stroke-opacity="0.5">19.0 (16.0, 23.0)</text>
<text x="19.15" y="198.9" font-size="5.8" font-weight="normal" fill="#000" textLength="14.7" lengthAdjust="spacingAndGlyphs" stroke="#000" stroke-width="0.12" stroke-opacity="0.5">LOT≥3</text>
<text x="59.55" y="198.9" font-size="5.8" font-weight="normal" fill="#000" textLength="8.6" lengthAdjust="spacingAndGlyphs" stroke="#000" stroke-width="0.12" stroke-opacity="0.5">344</text>
<text x="82.75" y="198.9" font-size="5.8" font-weight="normal" fill="#000" textLength="19.3" lengthAdjust="spacingAndGlyphs" stroke="#000" stroke-width="0.12" stroke-opacity="0.5">278 (81)</text>
<text x="113.4" y="198.9" font-size="5.8" font-weight="normal" fill="#000" textLength="17.8" lengthAdjust="spacingAndGlyphs" stroke="#000" stroke-width="0.12" stroke-opacity="0.5">66 (19)</text>
<text x="137.5" y="198.9" font-size="5.8" font-weight="normal" fill="#000" textLength="36.6" lengthAdjust="spacingAndGlyphs" stroke="#000" stroke-width="0.12" stroke-opacity="0.5">13.0 (10.0, 14.0)</text>
<text x="226.15" y="27.2" font-size="5.8" font-weight="normal" fill="#000" textLength="13.5" lengthAdjust="spacingAndGlyphs" stroke="#000" stroke-width="0.12" stroke-opacity="0.5">Group</text>
<text x="234.95" y="35.4" font-size="5.8" font-weight="normal" fill="#000" textLength="12.4" lengthAdjust="spacingAndGlyphs" stroke="#000" stroke-width="0.12" stroke-opacity="0.5">LOT 1</text>
<text x="234.95" y="44.1" font-size="5.8" font-weight="normal" fill="#000" textLength="13" lengthAdjust="spacingAndGlyphs" stroke="#000" stroke-width="0.12" stroke-opacity="0.5">LOT 2</text>
<text x="234.95" y="52.8" font-size="5.8" font-weight="normal" fill="#000" textLength="14.7" lengthAdjust="spacingAndGlyphs" stroke="#000" stroke-width="0.12" stroke-opacity="0.5">LOT≥3</text>
<text x="270.8" y="16" font-size="10.9" font-weight="bold" fill="#000">B</text>
<text x="282.15" y="134.4" font-size="6.4" font-weight="normal" fill="#000" textLength="7.9" lengthAdjust="spacingAndGlyphs" stroke="#000" stroke-width="0.12" stroke-opacity="0.5">0.0</text>
<text x="282.15" y="123.65" font-size="6.4" font-weight="normal" fill="#000" textLength="7.9" lengthAdjust="spacingAndGlyphs" stroke="#000" stroke-width="0.12" stroke-opacity="0.5">0.1</text>
<text x="282.15" y="112.89" font-size="6.4" font-weight="normal" fill="#000" textLength="7.9" lengthAdjust="spacingAndGlyphs" stroke="#000" stroke-width="0.12" stroke-opacity="0.5">0.2</text>
<text x="282.15" y="102.14" font-size="6.4" font-weight="normal" fill="#000" textLength="7.9" lengthAdjust="spacingAndGlyphs" stroke="#000" stroke-width="0.12" stroke-opacity="0.5">0.3</text>
<text x="282.15" y="91.38" font-size="6.4" font-weight="normal" fill="#000" textLength="7.9" lengthAdjust="spacingAndGlyphs" stroke="#000" stroke-width="0.12" stroke-opacity="0.5">0.4</text>
<text x="282.15" y="80.62" font-size="6.4" font-weight="normal" fill="#000" textLength="7.9" lengthAdjust="spacingAndGlyphs" stroke="#000" stroke-width="0.12" stroke-opacity="0.5">0.5</text>
<text x="282.15" y="69.87" font-size="6.4" font-weight="normal" fill="#000" textLength="7.9" lengthAdjust="spacingAndGlyphs" stroke="#000" stroke-width="0.12" stroke-opacity="0.5">0.6</text>
<text x="282.15" y="59.12" font-size="6.4" font-weight="normal" fill="#000" textLength="7.9" lengthAdjust="spacingAndGlyphs" stroke="#000" stroke-width="0.12" stroke-opacity="0.5">0.7</text>
<text x="282.15" y="48.36" font-size="6.4" font-weight="normal" fill="#000" textLength="7.9" lengthAdjust="spacingAndGlyphs" stroke="#000" stroke-width="0.12" stroke-opacity="0.5">0.8</text>
<text x="282.15" y="37.6" font-size="6.4" font-weight="normal" fill="#000" textLength="7.9" lengthAdjust="spacingAndGlyphs" stroke="#000" stroke-width="0.12" stroke-opacity="0.5">0.9</text>
<text x="282.15" y="26.85" font-size="6.4" font-weight="normal" fill="#000" textLength="7.9" lengthAdjust="spacingAndGlyphs" stroke="#000" stroke-width="0.12" stroke-opacity="0.5">1.0</text>
<text x="296.1" y="143.75" font-size="6.5" font-weight="normal" fill="#000" textLength="3.2" lengthAdjust="spacingAndGlyphs" stroke="#000" stroke-width="0.12" stroke-opacity="0.5">0</text>
<text x="323.95" y="143.75" font-size="6.5" font-weight="normal" fill="#000" textLength="6.7" lengthAdjust="spacingAndGlyphs" stroke="#000" stroke-width="0.12" stroke-opacity="0.5">10</text>
<text x="353.55" y="143.75" font-size="6.5" font-weight="normal" fill="#000" textLength="6.7" lengthAdjust="spacingAndGlyphs" stroke="#000" stroke-width="0.12" stroke-opacity="0.5">20</text>
<text x="382.95" y="143.75" font-size="6.5" font-weight="normal" fill="#000" textLength="6.7" lengthAdjust="spacingAndGlyphs" stroke="#000" stroke-width="0.12" stroke-opacity="0.5">30</text>
<text x="412.45" y="143.75" font-size="6.5" font-weight="normal" fill="#000" textLength="6.7" lengthAdjust="spacingAndGlyphs" stroke="#000" stroke-width="0.12" stroke-opacity="0.5">40</text>
<text x="441.95" y="143.75" font-size="6.5" font-weight="normal" fill="#000" textLength="6.7" lengthAdjust="spacingAndGlyphs" stroke="#000" stroke-width="0.12" stroke-opacity="0.5">50</text>
<text x="472.35" y="143.75" font-size="6.5" font-weight="normal" fill="#000" textLength="6.7" lengthAdjust="spacingAndGlyphs" stroke="#000" stroke-width="0.12" stroke-opacity="0.5">60</text>
<text transform="translate(276.4 76.4) rotate(-90)" text-anchor="middle" font-size="7.2" font-weight="bold" fill="#000" textLength="47" lengthAdjust="spacingAndGlyphs">Survival probability</text>
<text x="388.45" y="154.8" font-size="8.9" font-weight="bold" fill="#000" textLength="33" lengthAdjust="spacingAndGlyphs" >Time, months</text>
<text x="308.45" y="110.8" font-size="5.3" font-weight="normal" fill="#000" textLength="41.7" lengthAdjust="spacingAndGlyphs" stroke="#000" stroke-width="0.12" stroke-opacity="0.5">Log rank <tspan font-style="italic">P</tspan> &lt; .0001</text>
<text x="349.95" y="164.6" font-size="5.8" font-weight="normal" fill="#000" textLength="12" lengthAdjust="spacingAndGlyphs" stroke="#000" stroke-width="0.12" stroke-opacity="0.5">Event</text>
<text x="375.25" y="164.6" font-size="5.8" font-weight="normal" fill="#000" textLength="21.4" lengthAdjust="spacingAndGlyphs" stroke="#000" stroke-width="0.12" stroke-opacity="0.5">Censored</text>
<text x="408.25" y="164.6" font-size="5.8" font-weight="normal" fill="#000" textLength="35" lengthAdjust="spacingAndGlyphs" stroke="#000" stroke-width="0.12" stroke-opacity="0.5">Median duration</text>
<text x="282.65" y="173.2" font-size="5.8" font-weight="normal" fill="#000" textLength="13.6" lengthAdjust="spacingAndGlyphs" stroke="#000" stroke-width="0.12" stroke-opacity="0.5">Group</text>
<text x="325.45" y="173.2" font-size="5.8" font-weight="normal" fill="#000" textLength="3.7" lengthAdjust="spacingAndGlyphs" stroke="#000" stroke-width="0.12" stroke-opacity="0.5">N</text>
<text x="350.35" y="173.2" font-size="5.8" font-weight="normal" fill="#000" textLength="11.5" lengthAdjust="spacingAndGlyphs" stroke="#000" stroke-width="0.12" stroke-opacity="0.5"><tspan font-style="italic">n</tspan> (%)</text>
<text x="380.55" y="173.2" font-size="5.8" font-weight="normal" fill="#000" textLength="10.9" lengthAdjust="spacingAndGlyphs" stroke="#000" stroke-width="0.12" stroke-opacity="0.5"><tspan font-style="italic">n</tspan> (%)</text>
<text x="406.75" y="173.2" font-size="5.8" font-weight="normal" fill="#000" textLength="38.3" lengthAdjust="spacingAndGlyphs" stroke="#000" stroke-width="0.12" stroke-opacity="0.5">(95% CI), months</text>
<text x="282.65" y="181.9" font-size="5.8" font-weight="normal" fill="#000" textLength="6.7" lengthAdjust="spacingAndGlyphs" stroke="#000" stroke-width="0.12" stroke-opacity="0.5">BR</text>
<text x="323.45" y="181.9" font-size="5.8" font-weight="normal" fill="#000" textLength="7.9" lengthAdjust="spacingAndGlyphs" stroke="#000" stroke-width="0.12" stroke-opacity="0.5">199</text>
<text x="349.45" y="181.9" font-size="5.8" font-weight="normal" fill="#000" textLength="13.5" lengthAdjust="spacingAndGlyphs" stroke="#000" stroke-width="0.12" stroke-opacity="0.5">84 (42)</text>
<text x="377.45" y="181.9" font-size="5.8" font-weight="normal" fill="#000" textLength="17.9" lengthAdjust="spacingAndGlyphs" stroke="#000" stroke-width="0.12" stroke-opacity="0.5">115 (58)</text>
<text x="412.3" y="181.9" font-size="5.8" font-weight="normal" fill="#000" textLength="26.8" lengthAdjust="spacingAndGlyphs" stroke="#000" stroke-width="0.12" stroke-opacity="0.5">59.0 (47.0, –)</text>
<text x="282.65" y="190.4" font-size="5.8" font-weight="normal" fill="#000" textLength="10" lengthAdjust="spacingAndGlyphs" stroke="#000" stroke-width="0.12" stroke-opacity="0.5">FCR</text>
<text x="323.45" y="190.4" font-size="5.8" font-weight="normal" fill="#000" textLength="7.9" lengthAdjust="spacingAndGlyphs" stroke="#000" stroke-width="0.12" stroke-opacity="0.5">246</text>
<text x="347.55" y="190.4" font-size="5.8" font-weight="normal" fill="#000" textLength="17.3" lengthAdjust="spacingAndGlyphs" stroke="#000" stroke-width="0.12" stroke-opacity="0.5">114 (46)</text>
<text x="377.45" y="190.4" font-size="5.8" font-weight="normal" fill="#000" textLength="17.9" lengthAdjust="spacingAndGlyphs" stroke="#000" stroke-width="0.12" stroke-opacity="0.5">132 (54)</text>
<text x="412.3" y="190.4" font-size="5.8" font-weight="normal" fill="#000" textLength="26.8" lengthAdjust="spacingAndGlyphs" stroke="#000" stroke-width="0.12" stroke-opacity="0.5">55.0 (47.0, –)</text>
<text x="282.65" y="198.9" font-size="5.8" font-weight="normal" fill="#000" textLength="34.2" lengthAdjust="spacingAndGlyphs" stroke="#000" stroke-width="0.12" stroke-opacity="0.5">Other treatment</text>
<text x="323.45" y="198.9" font-size="5.8" font-weight="normal" fill="#000" textLength="7.9" lengthAdjust="spacingAndGlyphs" stroke="#000" stroke-width="0.12" stroke-opacity="0.5">444</text>
<text x="347.55" y="198.9" font-size="5.8" font-weight="normal" fill="#000" textLength="17.3" lengthAdjust="spacingAndGlyphs" stroke="#000" stroke-width="0.12" stroke-opacity="0.5">264 (59)</text>
<text x="377.45" y="198.9" font-size="5.8" font-weight="normal" fill="#000" textLength="17.9" lengthAdjust="spacingAndGlyphs" stroke="#000" stroke-width="0.12" stroke-opacity="0.5">180 (41)</text>
<text x="407.4" y="198.9" font-size="5.8" font-weight="normal" fill="#000" textLength="36.6" lengthAdjust="spacingAndGlyphs" stroke="#000" stroke-width="0.12" stroke-opacity="0.5">33.0 (29.0, 38.0)</text>
<text x="483.15" y="27.2" font-size="5.8" font-weight="normal" fill="#000" textLength="14.3" lengthAdjust="spacingAndGlyphs" stroke="#000" stroke-width="0.12" stroke-opacity="0.5">Group</text>
<text x="493.25" y="35.4" font-size="5.8" font-weight="normal" fill="#000" textLength="6.1" lengthAdjust="spacingAndGlyphs" stroke="#000" stroke-width="0.12" stroke-opacity="0.5">BR</text>
<text x="492.85" y="44" font-size="5.8" font-weight="normal" fill="#000" textLength="9.8" lengthAdjust="spacingAndGlyphs" stroke="#000" stroke-width="0.12" stroke-opacity="0.5">FCR</text>
<text x="493.35" y="52.3" font-size="5.8" font-weight="normal" fill="#000" textLength="10.8" lengthAdjust="spacingAndGlyphs" stroke="#000" stroke-width="0.12" stroke-opacity="0.5">Other</text>
<text x="493.35" y="58.5" font-size="5.8" font-weight="normal" fill="#000" textLength="19.5" lengthAdjust="spacingAndGlyphs" stroke="#000" stroke-width="0.12" stroke-opacity="0.5">treatment</text>
<text x="7.3" y="224" font-size="10.9" font-weight="bold" fill="#000">C</text>
<text x="19.15" y="342.45" font-size="6.4" font-weight="normal" fill="#000" textLength="7.9" lengthAdjust="spacingAndGlyphs" stroke="#000" stroke-width="0.12" stroke-opacity="0.5">0.0</text>
<text x="19.15" y="331.69" font-size="6.4" font-weight="normal" fill="#000" textLength="7.9" lengthAdjust="spacingAndGlyphs" stroke="#000" stroke-width="0.12" stroke-opacity="0.5">0.1</text>
<text x="19.15" y="320.94" font-size="6.4" font-weight="normal" fill="#000" textLength="7.9" lengthAdjust="spacingAndGlyphs" stroke="#000" stroke-width="0.12" stroke-opacity="0.5">0.2</text>
<text x="19.15" y="310.19" font-size="6.4" font-weight="normal" fill="#000" textLength="7.9" lengthAdjust="spacingAndGlyphs" stroke="#000" stroke-width="0.12" stroke-opacity="0.5">0.3</text>
<text x="19.15" y="299.43" font-size="6.4" font-weight="normal" fill="#000" textLength="7.9" lengthAdjust="spacingAndGlyphs" stroke="#000" stroke-width="0.12" stroke-opacity="0.5">0.4</text>
<text x="19.15" y="288.68" font-size="6.4" font-weight="normal" fill="#000" textLength="7.9" lengthAdjust="spacingAndGlyphs" stroke="#000" stroke-width="0.12" stroke-opacity="0.5">0.5</text>
<text x="19.15" y="277.92" font-size="6.4" font-weight="normal" fill="#000" textLength="7.9" lengthAdjust="spacingAndGlyphs" stroke="#000" stroke-width="0.12" stroke-opacity="0.5">0.6</text>
<text x="19.15" y="267.17" font-size="6.4" font-weight="normal" fill="#000" textLength="7.9" lengthAdjust="spacingAndGlyphs" stroke="#000" stroke-width="0.12" stroke-opacity="0.5">0.7</text>
<text x="19.15" y="256.41" font-size="6.4" font-weight="normal" fill="#000" textLength="7.9" lengthAdjust="spacingAndGlyphs" stroke="#000" stroke-width="0.12" stroke-opacity="0.5">0.8</text>
<text x="19.15" y="245.66" font-size="6.4" font-weight="normal" fill="#000" textLength="7.9" lengthAdjust="spacingAndGlyphs" stroke="#000" stroke-width="0.12" stroke-opacity="0.5">0.9</text>
<text x="19.15" y="234.9" font-size="6.4" font-weight="normal" fill="#000" textLength="7.9" lengthAdjust="spacingAndGlyphs" stroke="#000" stroke-width="0.12" stroke-opacity="0.5">1.0</text>
<text x="32.9" y="351.8" font-size="6.5" font-weight="normal" fill="#000" textLength="3.2" lengthAdjust="spacingAndGlyphs" stroke="#000" stroke-width="0.12" stroke-opacity="0.5">0</text>
<text x="60.65" y="351.8" font-size="6.5" font-weight="normal" fill="#000" textLength="6.7" lengthAdjust="spacingAndGlyphs" stroke="#000" stroke-width="0.12" stroke-opacity="0.5">10</text>
<text x="90.25" y="351.8" font-size="6.5" font-weight="normal" fill="#000" textLength="6.7" lengthAdjust="spacingAndGlyphs" stroke="#000" stroke-width="0.12" stroke-opacity="0.5">20</text>
<text x="119.45" y="351.8" font-size="6.5" font-weight="normal" fill="#000" textLength="6.7" lengthAdjust="spacingAndGlyphs" stroke="#000" stroke-width="0.12" stroke-opacity="0.5">30</text>
<text x="148.85" y="351.8" font-size="6.5" font-weight="normal" fill="#000" textLength="6.7" lengthAdjust="spacingAndGlyphs" stroke="#000" stroke-width="0.12" stroke-opacity="0.5">40</text>
<text x="178.25" y="351.8" font-size="6.5" font-weight="normal" fill="#000" textLength="6.7" lengthAdjust="spacingAndGlyphs" stroke="#000" stroke-width="0.12" stroke-opacity="0.5">50</text>
<text x="208.75" y="351.8" font-size="6.5" font-weight="normal" fill="#000" textLength="6.7" lengthAdjust="spacingAndGlyphs" stroke="#000" stroke-width="0.12" stroke-opacity="0.5">60</text>
<text transform="translate(12.9 284.4) rotate(-90)" text-anchor="middle" font-size="7.2" font-weight="bold" fill="#000" textLength="47" lengthAdjust="spacingAndGlyphs">Survival probability</text>
<text x="124.95" y="362.8" font-size="8.9" font-weight="bold" fill="#000" textLength="33" lengthAdjust="spacingAndGlyphs" >Time, months</text>
<text x="45.15" y="318.8" font-size="5.3" font-weight="normal" fill="#000" textLength="41.6" lengthAdjust="spacingAndGlyphs" stroke="#000" stroke-width="0.12" stroke-opacity="0.5">Log rank <tspan font-style="italic">P</tspan> &lt; .0001</text>
<text x="86.95" y="372.6" font-size="5.8" font-weight="normal" fill="#000" textLength="11.2" lengthAdjust="spacingAndGlyphs" stroke="#000" stroke-width="0.12" stroke-opacity="0.5">Event</text>
<text x="112.15" y="372.6" font-size="5.8" font-weight="normal" fill="#000" textLength="20.7" lengthAdjust="spacingAndGlyphs" stroke="#000" stroke-width="0.12" stroke-opacity="0.5">Censored</text>
<text x="138.05" y="372.6" font-size="5.8" font-weight="normal" fill="#000" textLength="35.1" lengthAdjust="spacingAndGlyphs" stroke="#000" stroke-width="0.12" stroke-opacity="0.5">Median duration</text>
<text x="19.15" y="381.2" font-size="5.8" font-weight="normal" fill="#000" textLength="13.6" lengthAdjust="spacingAndGlyphs" stroke="#000" stroke-width="0.12" stroke-opacity="0.5">Group</text>
<text x="61.85" y="381.2" font-size="5.8" font-weight="normal" fill="#000" textLength="4" lengthAdjust="spacingAndGlyphs" stroke="#000" stroke-width="0.12" stroke-opacity="0.5">N</text>
<text x="86.75" y="381.2" font-size="5.8" font-weight="normal" fill="#000" textLength="11.4" lengthAdjust="spacingAndGlyphs" stroke="#000" stroke-width="0.12" stroke-opacity="0.5"><tspan font-style="italic">n</tspan> (%)</text>
<text x="116.55" y="381.2" font-size="5.8" font-weight="normal" fill="#000" textLength="11.6" lengthAdjust="spacingAndGlyphs" stroke="#000" stroke-width="0.12" stroke-opacity="0.5"><tspan font-style="italic">n</tspan> (%)</text>
<text x="136.35" y="381.2" font-size="5.8" font-weight="normal" fill="#000" textLength="38" lengthAdjust="spacingAndGlyphs" stroke="#000" stroke-width="0.12" stroke-opacity="0.5">(95% CI), months</text>
<text x="19.15" y="389.9" font-size="5.8" font-weight="normal" fill="#000" textLength="10.5" lengthAdjust="spacingAndGlyphs" stroke="#000" stroke-width="0.12" stroke-opacity="0.5">LOT 1</text>
<text x="59.55" y="389.9" font-size="5.8" font-weight="normal" fill="#000" textLength="8.6" lengthAdjust="spacingAndGlyphs" stroke="#000" stroke-width="0.12" stroke-opacity="0.5">889</text>
<text x="82.75" y="389.9" font-size="5.8" font-weight="normal" fill="#000" textLength="19.3" lengthAdjust="spacingAndGlyphs" stroke="#000" stroke-width="0.12" stroke-opacity="0.5">211 (24)</text>
<text x="113.4" y="389.9" font-size="5.8" font-weight="normal" fill="#000" textLength="17.8" lengthAdjust="spacingAndGlyphs" stroke="#000" stroke-width="0.12" stroke-opacity="0.5">678 (76)</text>
<text x="154.55" y="389.9" font-size="5.8" font-weight="normal" fill="#000" textLength="2.1" lengthAdjust="spacingAndGlyphs" stroke="#000" stroke-width="0.12" stroke-opacity="0.5">–</text>
<text x="19.15" y="398.4" font-size="5.8" font-weight="normal" fill="#000" textLength="12.8" lengthAdjust="spacingAndGlyphs" stroke="#000" stroke-width="0.12" stroke-opacity="0.5">LOT 2</text>
<text x="59.55" y="398.4" font-size="5.8" font-weight="normal" fill="#000" textLength="8.6" lengthAdjust="spacingAndGlyphs" stroke="#000" stroke-width="0.12" stroke-opacity="0.5">261</text>
<text x="82.75" y="398.4" font-size="5.8" font-weight="normal" fill="#000" textLength="19.3" lengthAdjust="spacingAndGlyphs" stroke="#000" stroke-width="0.12" stroke-opacity="0.5">114 (44)</text>
<text x="113.4" y="398.4" font-size="5.8" font-weight="normal" fill="#000" textLength="17.8" lengthAdjust="spacingAndGlyphs" stroke="#000" stroke-width="0.12" stroke-opacity="0.5">147 (56)</text>
<text x="137.5" y="398.4" font-size="5.8" font-weight="normal" fill="#000" textLength="36.6" lengthAdjust="spacingAndGlyphs" stroke="#000" stroke-width="0.12" stroke-opacity="0.5">63.0 (46.0, 63.0)</text>
<text x="19.15" y="406.9" font-size="5.8" font-weight="normal" fill="#000" textLength="14.7" lengthAdjust="spacingAndGlyphs" stroke="#000" stroke-width="0.12" stroke-opacity="0.5">LOT≥3</text>
<text x="59.55" y="406.9" font-size="5.8" font-weight="normal" fill="#000" textLength="8.6" lengthAdjust="spacingAndGlyphs" stroke="#000" stroke-width="0.12" stroke-opacity="0.5">344</text>
<text x="82.75" y="406.9" font-size="5.8" font-weight="normal" fill="#000" textLength="19.3" lengthAdjust="spacingAndGlyphs" stroke="#000" stroke-width="0.12" stroke-opacity="0.5">185 (54)</text>
<text x="113.4" y="406.9" font-size="5.8" font-weight="normal" fill="#000" textLength="17.8" lengthAdjust="spacingAndGlyphs" stroke="#000" stroke-width="0.12" stroke-opacity="0.5">159 (46)</text>
<text x="137.5" y="406.9" font-size="5.8" font-weight="normal" fill="#000" textLength="36.6" lengthAdjust="spacingAndGlyphs" stroke="#000" stroke-width="0.12" stroke-opacity="0.5">38.0 (33.0, 47.0)</text>
<text x="226.15" y="234.2" font-size="5.8" font-weight="normal" fill="#000" textLength="13.5" lengthAdjust="spacingAndGlyphs" stroke="#000" stroke-width="0.12" stroke-opacity="0.5">Group</text>
<text x="234.95" y="242.4" font-size="5.8" font-weight="normal" fill="#000" textLength="12.4" lengthAdjust="spacingAndGlyphs" stroke="#000" stroke-width="0.12" stroke-opacity="0.5">LOT 1</text>
<text x="234.95" y="251.1" font-size="5.8" font-weight="normal" fill="#000" textLength="13" lengthAdjust="spacingAndGlyphs" stroke="#000" stroke-width="0.12" stroke-opacity="0.5">LOT 2</text>
<text x="234.95" y="259.8" font-size="5.8" font-weight="normal" fill="#000" textLength="14.7" lengthAdjust="spacingAndGlyphs" stroke="#000" stroke-width="0.12" stroke-opacity="0.5">LOT≥3</text>
<text x="270.8" y="224" font-size="10.9" font-weight="bold" fill="#000">D</text>
<text x="282.15" y="342.45" font-size="6.4" font-weight="normal" fill="#000" textLength="7.9" lengthAdjust="spacingAndGlyphs" stroke="#000" stroke-width="0.12" stroke-opacity="0.5">0.0</text>
<text x="282.15" y="331.69" font-size="6.4" font-weight="normal" fill="#000" textLength="7.9" lengthAdjust="spacingAndGlyphs" stroke="#000" stroke-width="0.12" stroke-opacity="0.5">0.1</text>
<text x="282.15" y="320.93" font-size="6.4" font-weight="normal" fill="#000" textLength="7.9" lengthAdjust="spacingAndGlyphs" stroke="#000" stroke-width="0.12" stroke-opacity="0.5">0.2</text>
<text x="282.15" y="310.17" font-size="6.4" font-weight="normal" fill="#000" textLength="7.9" lengthAdjust="spacingAndGlyphs" stroke="#000" stroke-width="0.12" stroke-opacity="0.5">0.3</text>
<text x="282.15" y="299.41" font-size="6.4" font-weight="normal" fill="#000" textLength="7.9" lengthAdjust="spacingAndGlyphs" stroke="#000" stroke-width="0.12" stroke-opacity="0.5">0.4</text>
<text x="282.15" y="288.65" font-size="6.4" font-weight="normal" fill="#000" textLength="7.9" lengthAdjust="spacingAndGlyphs" stroke="#000" stroke-width="0.12" stroke-opacity="0.5">0.5</text>
<text x="282.15" y="277.89" font-size="6.4" font-weight="normal" fill="#000" textLength="7.9" lengthAdjust="spacingAndGlyphs" stroke="#000" stroke-width="0.12" stroke-opacity="0.5">0.6</text>
<text x="282.15" y="267.13" font-size="6.4" font-weight="normal" fill="#000" textLength="7.9" lengthAdjust="spacingAndGlyphs" stroke="#000" stroke-width="0.12" stroke-opacity="0.5">0.7</text>
<text x="282.15" y="256.37" font-size="6.4" font-weight="normal" fill="#000" textLength="7.9" lengthAdjust="spacingAndGlyphs" stroke="#000" stroke-width="0.12" stroke-opacity="0.5">0.8</text>
<text x="282.15" y="245.61" font-size="6.4" font-weight="normal" fill="#000" textLength="7.9" lengthAdjust="spacingAndGlyphs" stroke="#000" stroke-width="0.12" stroke-opacity="0.5">0.9</text>
<text x="282.15" y="234.85" font-size="6.4" font-weight="normal" fill="#000" textLength="7.9" lengthAdjust="spacingAndGlyphs" stroke="#000" stroke-width="0.12" stroke-opacity="0.5">1.0</text>
<text x="296.1" y="351.8" font-size="6.5" font-weight="normal" fill="#000" textLength="3.2" lengthAdjust="spacingAndGlyphs" stroke="#000" stroke-width="0.12" stroke-opacity="0.5">0</text>
<text x="323.95" y="351.8" font-size="6.5" font-weight="normal" fill="#000" textLength="6.7" lengthAdjust="spacingAndGlyphs" stroke="#000" stroke-width="0.12" stroke-opacity="0.5">10</text>
<text x="353.55" y="351.8" font-size="6.5" font-weight="normal" fill="#000" textLength="6.7" lengthAdjust="spacingAndGlyphs" stroke="#000" stroke-width="0.12" stroke-opacity="0.5">20</text>
<text x="382.95" y="351.8" font-size="6.5" font-weight="normal" fill="#000" textLength="6.7" lengthAdjust="spacingAndGlyphs" stroke="#000" stroke-width="0.12" stroke-opacity="0.5">30</text>
<text x="412.45" y="351.8" font-size="6.5" font-weight="normal" fill="#000" textLength="6.7" lengthAdjust="spacingAndGlyphs" stroke="#000" stroke-width="0.12" stroke-opacity="0.5">40</text>
<text x="441.85" y="351.8" font-size="6.5" font-weight="normal" fill="#000" textLength="6.7" lengthAdjust="spacingAndGlyphs" stroke="#000" stroke-width="0.12" stroke-opacity="0.5">50</text>
<text x="472.45" y="351.8" font-size="6.5" font-weight="normal" fill="#000" textLength="6.7" lengthAdjust="spacingAndGlyphs" stroke="#000" stroke-width="0.12" stroke-opacity="0.5">60</text>
<text transform="translate(276.4 284.4) rotate(-90)" text-anchor="middle" font-size="7.2" font-weight="bold" fill="#000" textLength="47" lengthAdjust="spacingAndGlyphs">Survival probability</text>
<text x="388.45" y="362.8" font-size="8.9" font-weight="bold" fill="#000" textLength="33" lengthAdjust="spacingAndGlyphs" >Time, months</text>
<text x="307.25" y="318.8" font-size="5.3" font-weight="normal" fill="#000" textLength="42.2" lengthAdjust="spacingAndGlyphs" stroke="#000" stroke-width="0.12" stroke-opacity="0.5">Log rank <tspan font-style="italic">P</tspan> = .0057</text>
<text x="349.95" y="372.6" font-size="5.8" font-weight="normal" fill="#000" textLength="12" lengthAdjust="spacingAndGlyphs" stroke="#000" stroke-width="0.12" stroke-opacity="0.5">Event</text>
<text x="375.25" y="372.6" font-size="5.8" font-weight="normal" fill="#000" textLength="21.4" lengthAdjust="spacingAndGlyphs" stroke="#000" stroke-width="0.12" stroke-opacity="0.5">Censored</text>
<text x="408.25" y="372.6" font-size="5.8" font-weight="normal" fill="#000" textLength="35" lengthAdjust="spacingAndGlyphs" stroke="#000" stroke-width="0.12" stroke-opacity="0.5">Median duration</text>
<text x="282.65" y="381.2" font-size="5.8" font-weight="normal" fill="#000" textLength="13.6" lengthAdjust="spacingAndGlyphs" stroke="#000" stroke-width="0.12" stroke-opacity="0.5">Group</text>
<text x="325.45" y="381.2" font-size="5.8" font-weight="normal" fill="#000" textLength="3.7" lengthAdjust="spacingAndGlyphs" stroke="#000" stroke-width="0.12" stroke-opacity="0.5">N</text>
<text x="350.35" y="381.2" font-size="5.8" font-weight="normal" fill="#000" textLength="11.5" lengthAdjust="spacingAndGlyphs" stroke="#000" stroke-width="0.12" stroke-opacity="0.5"><tspan font-style="italic">n</tspan> (%)</text>
<text x="380.55" y="381.2" font-size="5.8" font-weight="normal" fill="#000" textLength="10.9" lengthAdjust="spacingAndGlyphs" stroke="#000" stroke-width="0.12" stroke-opacity="0.5"><tspan font-style="italic">n</tspan> (%)</text>
<text x="406.75" y="381.2" font-size="5.8" font-weight="normal" fill="#000" textLength="38.3" lengthAdjust="spacingAndGlyphs" stroke="#000" stroke-width="0.12" stroke-opacity="0.5">(95% CI), months</text>
<text x="282.65" y="389.9" font-size="5.8" font-weight="normal" fill="#000" textLength="6.7" lengthAdjust="spacingAndGlyphs" stroke="#000" stroke-width="0.12" stroke-opacity="0.5">BR</text>
<text x="323.45" y="389.9" font-size="5.8" font-weight="normal" fill="#000" textLength="7.9" lengthAdjust="spacingAndGlyphs" stroke="#000" stroke-width="0.12" stroke-opacity="0.5">199</text>
<text x="349.45" y="389.9" font-size="5.8" font-weight="normal" fill="#000" textLength="13.5" lengthAdjust="spacingAndGlyphs" stroke="#000" stroke-width="0.12" stroke-opacity="0.5">42 (21)</text>
<text x="377.45" y="389.9" font-size="5.8" font-weight="normal" fill="#000" textLength="17.9" lengthAdjust="spacingAndGlyphs" stroke="#000" stroke-width="0.12" stroke-opacity="0.5">157 (79)</text>
<text x="424.75" y="389.9" font-size="5.8" font-weight="normal" fill="#000" textLength="1.9" lengthAdjust="spacingAndGlyphs" stroke="#000" stroke-width="0.12" stroke-opacity="0.5">–</text>
<text x="282.65" y="398.4" font-size="5.8" font-weight="normal" fill="#000" textLength="10" lengthAdjust="spacingAndGlyphs" stroke="#000" stroke-width="0.12" stroke-opacity="0.5">FCR</text>
<text x="323.45" y="398.4" font-size="5.8" font-weight="normal" fill="#000" textLength="7.9" lengthAdjust="spacingAndGlyphs" stroke="#000" stroke-width="0.12" stroke-opacity="0.5">246</text>
<text x="349.45" y="398.4" font-size="5.8" font-weight="normal" fill="#000" textLength="13.5" lengthAdjust="spacingAndGlyphs" stroke="#000" stroke-width="0.12" stroke-opacity="0.5">43 (17)</text>
<text x="377.45" y="398.4" font-size="5.8" font-weight="normal" fill="#000" textLength="17.9" lengthAdjust="spacingAndGlyphs" stroke="#000" stroke-width="0.12" stroke-opacity="0.5">203 (83)</text>
<text x="424.75" y="398.4" font-size="5.8" font-weight="normal" fill="#000" textLength="1.9" lengthAdjust="spacingAndGlyphs" stroke="#000" stroke-width="0.12" stroke-opacity="0.5">–</text>
<text x="282.65" y="406.9" font-size="5.8" font-weight="normal" fill="#000" textLength="34.2" lengthAdjust="spacingAndGlyphs" stroke="#000" stroke-width="0.12" stroke-opacity="0.5">Other treatment</text>
<text x="323.45" y="406.9" font-size="5.8" font-weight="normal" fill="#000" textLength="7.9" lengthAdjust="spacingAndGlyphs" stroke="#000" stroke-width="0.12" stroke-opacity="0.5">444</text>
<text x="347.55" y="406.9" font-size="5.8" font-weight="normal" fill="#000" textLength="17.3" lengthAdjust="spacingAndGlyphs" stroke="#000" stroke-width="0.12" stroke-opacity="0.5">126 (28)</text>
<text x="377.45" y="406.9" font-size="5.8" font-weight="normal" fill="#000" textLength="17.9" lengthAdjust="spacingAndGlyphs" stroke="#000" stroke-width="0.12" stroke-opacity="0.5">318 (72)</text>
<text x="424.75" y="406.9" font-size="5.8" font-weight="normal" fill="#000" textLength="1.9" lengthAdjust="spacingAndGlyphs" stroke="#000" stroke-width="0.12" stroke-opacity="0.5">–</text>
<text x="483.85" y="223.4" font-size="5.8" font-weight="normal" fill="#000" textLength="13.5" lengthAdjust="spacingAndGlyphs" stroke="#000" stroke-width="0.12" stroke-opacity="0.5">Group</text>
<text x="492.65" y="231.4" font-size="5.8" font-weight="normal" fill="#000" textLength="7" lengthAdjust="spacingAndGlyphs" stroke="#000" stroke-width="0.12" stroke-opacity="0.5">BR</text>
<text x="492.65" y="240.2" font-size="5.8" font-weight="normal" fill="#000" textLength="10" lengthAdjust="spacingAndGlyphs" stroke="#000" stroke-width="0.12" stroke-opacity="0.5">FCR</text>
<text x="492.65" y="248.9" font-size="5.8" font-weight="normal" fill="#000" textLength="12.4" lengthAdjust="spacingAndGlyphs" stroke="#000" stroke-width="0.12" stroke-opacity="0.5">Other</text>
<text x="492.65" y="255.3" font-size="5.8" font-weight="normal" fill="#000" textLength="20" lengthAdjust="spacingAndGlyphs" stroke="#000" stroke-width="0.12" stroke-opacity="0.5">treatment</text>
</g>
</svg></body></html>
